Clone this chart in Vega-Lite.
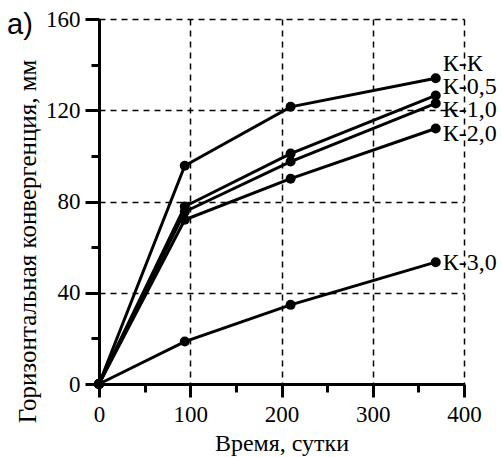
{
  "$schema": "https://vega.github.io/schema/vega-lite/v6.json",
  "autosize": "none",
  "width": 365,
  "height": 365,
  "padding": {"left": 99, "top": 19, "right": 38, "bottom": 73},
  "background": "white",
  "title": {"text": "a)", "anchor": "start", "frame": "group", "orient": "top", "dx": -92, "dy": 36, "font": "Liberation Sans", "fontSize": 29, "fontWeight": "normal", "color": "black"},
  "config": {"view": {"stroke": null}},
  "data": {"values": [
    {"series": "К-К", "day": 0, "value": 0},
    {"series": "К-К", "day": 94, "value": 95.7},
    {"series": "К-К", "day": 210, "value": 121.5},
    {"series": "К-К", "day": 369, "value": 134},
    {"series": "К-0,5", "day": 0, "value": 0},
    {"series": "К-0,5", "day": 94, "value": 77.8},
    {"series": "К-0,5", "day": 210, "value": 101},
    {"series": "К-0,5", "day": 369, "value": 126.5},
    {"series": "К-1,0", "day": 0, "value": 0},
    {"series": "К-1,0", "day": 94, "value": 75.5},
    {"series": "К-1,0", "day": 210, "value": 97.5},
    {"series": "К-1,0", "day": 369, "value": 123},
    {"series": "К-2,0", "day": 0, "value": 0},
    {"series": "К-2,0", "day": 94, "value": 72},
    {"series": "К-2,0", "day": 210, "value": 90},
    {"series": "К-2,0", "day": 369, "value": 112},
    {"series": "К-3,0", "day": 0, "value": 0},
    {"series": "К-3,0", "day": 94, "value": 18.6},
    {"series": "К-3,0", "day": 210, "value": 34.7},
    {"series": "К-3,0", "day": 369, "value": 53.4}
  ]},
  "resolve": {"axis": {"x": "independent", "y": "independent"}},
  "layer": [
    {"mark": {"type": "line", "color": "black", "strokeWidth": 3},
     "encoding": {
      "x": {"field": "day", "type": "quantitative",
        "scale": {"domain": [0, 400], "nice": false},
        "axis": {"orient": "bottom", "title": "Время, сутки", "values": [0, 100, 200, 300, 400],
          "ticks": true, "tickSize": 13, "tickWidth": 3, "tickColor": "black",
          "domain": true, "domainColor": "black", "domainWidth": 3,
          "grid": true, "gridColor": "black", "gridDash": [6, 5], "gridWidth": 1.5, "gridOpacity": 1,
          "labelFont": "Liberation Serif", "labelFontSize": 23, "labelColor": "black", "labelPadding": 6, "labelFlush": false,
          "titleFont": "Liberation Serif", "titleFontSize": 24, "titleFontWeight": "normal", "titleColor": "black", "titlePadding": 5}},
      "y": {"field": "value", "type": "quantitative",
        "scale": {"domain": [0, 160], "nice": false},
        "axis": {"orient": "left", "title": "Горизонтальная  конвергенция, мм", "values": [0, 40, 80, 120, 160],
          "ticks": true, "tickSize": 14, "tickWidth": 3, "tickColor": "black",
          "domain": true, "domainColor": "black", "domainWidth": 3,
          "grid": true, "gridColor": "black", "gridDash": [6, 5], "gridWidth": 1.5, "gridOpacity": 1,
          "labelFont": "Liberation Serif", "labelFontSize": 23, "labelColor": "black", "labelPadding": 5, "labelFlush": false,
          "titleFont": "Liberation Serif", "titleFontSize": 25, "titleFontWeight": "normal", "titleColor": "black",
          "titleX": -72, "titleY": 222, "titleAngle": -90, "titleBaseline": "middle"}},
      "detail": {"field": "series"}}},
    {"mark": {"type": "point", "filled": true, "color": "black", "size": 100, "opacity": 1},
     "encoding": {
      "x": {"field": "day", "type": "quantitative",
        "axis": {"orient": "bottom", "title": null, "values": [50, 150, 250, 350], "ticks": true, "tickSize": 8, "tickWidth": 3, "tickColor": "black", "labels": false, "domain": false, "grid": false}},
      "y": {"field": "value", "type": "quantitative",
        "axis": {"orient": "left", "title": null, "values": [20, 60, 100, 140], "ticks": true, "tickSize": 8, "tickWidth": 3, "tickColor": "black", "labels": false, "domain": false, "grid": false}}}},
    {"transform": [{"filter": "datum.day === 369 && datum.series === 'К-К'"}],
     "mark": {"type": "text", "align": "left", "baseline": "middle", "dx": 7, "dy": -14, "font": "Liberation Serif", "fontSize": 24, "color": "black"},
     "encoding": {"x": {"field": "day", "type": "quantitative", "axis": null}, "y": {"field": "value", "type": "quantitative", "axis": null}, "text": {"field": "series"}}},
    {"transform": [{"filter": "datum.day === 369 && datum.series === 'К-0,5'"}],
     "mark": {"type": "text", "align": "left", "baseline": "middle", "dx": 7, "dy": -8, "font": "Liberation Serif", "fontSize": 24, "color": "black"},
     "encoding": {"x": {"field": "day", "type": "quantitative", "axis": null}, "y": {"field": "value", "type": "quantitative", "axis": null}, "text": {"field": "series"}}},
    {"transform": [{"filter": "datum.day === 369 && datum.series === 'К-1,0'"}],
     "mark": {"type": "text", "align": "left", "baseline": "middle", "dx": 7, "dy": 7, "font": "Liberation Serif", "fontSize": 24, "color": "black"},
     "encoding": {"x": {"field": "day", "type": "quantitative", "axis": null}, "y": {"field": "value", "type": "quantitative", "axis": null}, "text": {"field": "series"}}},
    {"transform": [{"filter": "datum.day === 369 && datum.series === 'К-2,0'"}],
     "mark": {"type": "text", "align": "left", "baseline": "middle", "dx": 7, "dy": 5, "font": "Liberation Serif", "fontSize": 24, "color": "black"},
     "encoding": {"x": {"field": "day", "type": "quantitative", "axis": null}, "y": {"field": "value", "type": "quantitative", "axis": null}, "text": {"field": "series"}}},
    {"transform": [{"filter": "datum.day === 369 && datum.series === 'К-3,0'"}],
     "mark": {"type": "text", "align": "left", "baseline": "middle", "dx": 7, "dy": 1, "font": "Liberation Serif", "fontSize": 24, "color": "black"},
     "encoding": {"x": {"field": "day", "type": "quantitative", "axis": null}, "y": {"field": "value", "type": "quantitative", "axis": null}, "text": {"field": "series"}}}
  ]
}
